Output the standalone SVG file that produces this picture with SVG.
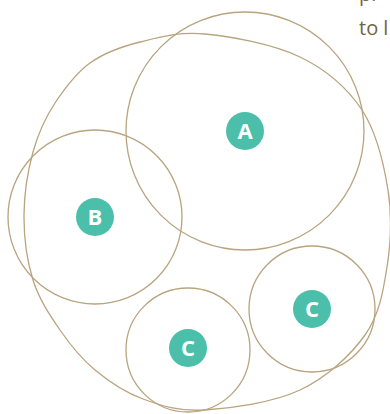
<svg xmlns="http://www.w3.org/2000/svg" width="390" height="414" viewBox="0 0 390 414">
<style>
.ring{fill:none;stroke:#b8a47e;stroke-width:1.3}
.badge{fill:#4bbfa9}
.lbl{fill:#fff;font-family:"Open Sans",sans-serif;font-weight:bold;font-size:22px;text-anchor:middle}
.cap{fill:#6e6543;font-family:"Open Sans",sans-serif;font-weight:500;font-size:20px}
</style>
<rect width="390" height="414" fill="#fff"/>
<text class="cap" x="359" y="1">pr</text>
<text class="cap" x="359" y="35">to l</text>
<g id="connectors"></g>
<g id="outer"><path class="ring" d="M205,34 C231.7,36.5 273.8,44.3 300,57 C326.2,69.7 347.3,87.8 362,110 C376.7,132.2 383.8,163.8 388,190 C392.2,216.2 390.8,242.8 387,267 C383.2,291.2 379.5,314.5 365,335 C350.5,355.5 326.7,377.5 300,390 C273.3,402.5 231.2,408.5 205,410 C178.8,411.5 161.3,405.7 143,399 C124.7,392.3 108.8,381.5 95,370 C81.2,358.5 70.3,345 60,330 C49.7,315 39,299.2 33,280 C27,260.8 23.8,236.7 24,215 C24.2,193.3 27.8,170.7 33,152 C38.2,133.3 44.7,118.5 55,103 C65.3,87.5 75.8,73.2 90,63 C104.2,52.8 120.8,46.8 140,42 C159.2,37.2 178.3,31.5 205,34 Z"/></g>
<g id="A"><circle class="ring" cx="245" cy="131" r="119"/><circle class="badge" cx="245" cy="131" r="19"/><text class="lbl" x="245" y="139">A</text></g>
<g id="B"><circle class="ring" cx="95" cy="217" r="87"/><circle class="badge" cx="95" cy="217" r="19"/><text class="lbl" x="95" y="225">B</text></g>
<g id="C1"><circle class="ring" cx="188" cy="350" r="62"/><circle class="badge" cx="188" cy="348" r="19"/><text class="lbl" x="188" y="356">C</text></g>
<g id="C2"><circle class="ring" cx="312" cy="309" r="63"/><circle class="badge" cx="312" cy="309" r="19"/><text class="lbl" x="312" y="317">C</text></g>
</svg>
